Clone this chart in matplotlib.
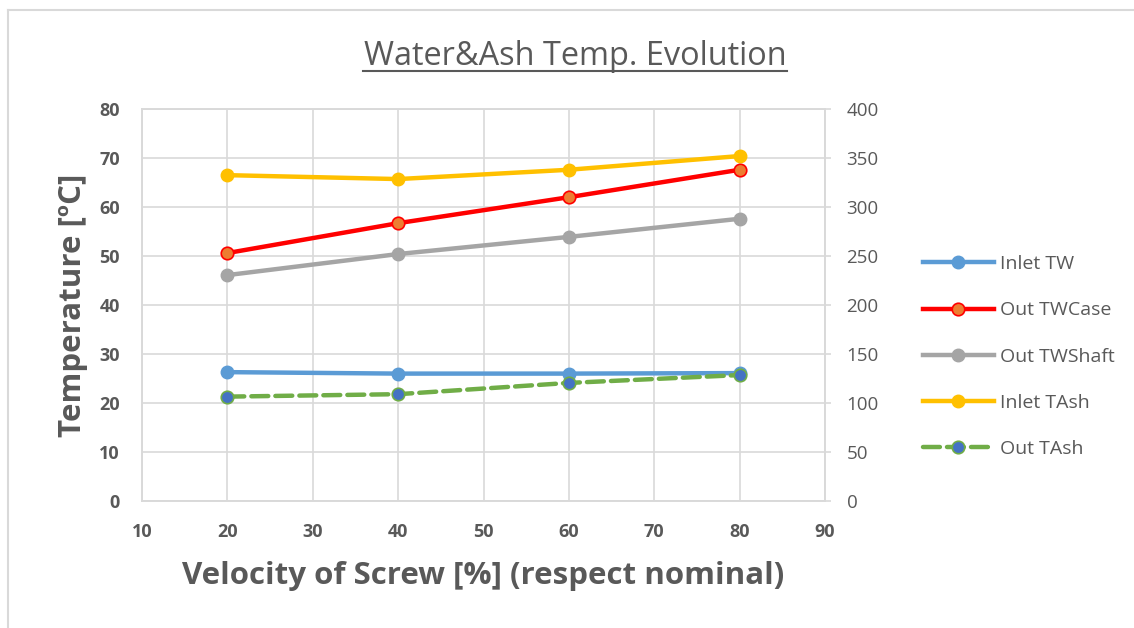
import matplotlib.pyplot as plt
from matplotlib.lines import Line2D

plt.rcParams['font.family'] = ['Open Sans', 'DejaVu Sans']

# data
velocity = [20, 40, 60, 80]
inlet_tw = [26.3, 26.0, 26.0, 26.1]
out_twcase = [50.6, 56.7, 62.0, 67.6]
out_twshaft = [46.1, 50.4, 53.9, 57.6]
# ash temps are on the right axis
inlet_tash = [332.5, 328.5, 338.0, 352.0]
out_tash = [106.5, 109.0, 120.5, 128.5]

grey_txt = '#595959'
grid_col = '#d9d9d9'

W, H = 1134, 628
fig = plt.figure(figsize=(11.34, 6.28), dpi=100)
ax = fig.add_axes([142 / W, 1 - 501 / H, 683 / W, 392 / H])
ax2 = ax.twinx()

# frame lines (only top and left are visible in the screenshot)
fig.add_artist(Line2D([7.5 / W, 1], [1 - 9.5 / H, 1 - 9.5 / H], transform=fig.transFigure,
                      color=grid_col, lw=1.5))
fig.add_artist(Line2D([7.5 / W, 7.5 / W], [0, 1 - 9.5 / H], transform=fig.transFigure,
                      color=grid_col, lw=1.5))

lw = 3.2
ms = 9
h1, = ax.plot(velocity, inlet_tw, color='#5B9BD5', lw=lw, marker='o', ms=ms, label='Inlet TW', zorder=3)
h2, = ax.plot(velocity, out_twcase, color='#FF0000', lw=lw, marker='o', ms=ms,
              markerfacecolor='#ED7D31', markeredgecolor='#FF0000', markeredgewidth=1.2,
              label='Out TWCase', zorder=3)
h3, = ax.plot(velocity, out_twshaft, color='#A5A5A5', lw=lw, marker='o', ms=ms, label='Out TWShaft', zorder=3)
h4, = ax2.plot(velocity, inlet_tash, color='#FFC000', lw=lw, marker='o', ms=ms, label='Inlet TAsh', zorder=3)
h5, = ax2.plot(velocity, out_tash, color='#70AD47', lw=lw, ls=(0, (3.8, 1.6)), marker='o', ms=ms,
               markerfacecolor='#4472C4', markeredgecolor='#70AD47', markeredgewidth=1.2,
               dash_capstyle='round', label='Out TAsh', zorder=3)

ax.set_xlim(10, 90)
ax.set_ylim(0, 80)
ax2.set_ylim(0, 400)
ax.set_xticks(range(10, 91, 10))
ax.set_yticks(range(0, 81, 10))
ax2.set_yticks(range(0, 401, 50))

ax.grid(True, color=grid_col, lw=1.2)
ax.set_axisbelow(True)
for a in (ax, ax2):
    for s in a.spines.values():
        s.set_color(grid_col)
        s.set_linewidth(1.2)
ax.tick_params(axis='x', length=0, labelsize=13, labelcolor=grey_txt, pad=16)
ax.tick_params(axis='y', length=0, labelsize=13, labelcolor=grey_txt, pad=16)
ax2.tick_params(axis='y', length=4.5, width=1.2, color=grid_col, labelsize=13.5,
                labelcolor=grey_txt, pad=11)
for lab in ax.get_xticklabels() + ax.get_yticklabels():
    lab.set_fontweight('bold')

ax.set_xlabel('Velocity of Screw [%] (respect nominal)', fontsize=22.5, fontweight='bold',
              color=grey_txt, labelpad=14)
ax.set_ylabel('Temperature [ºC]', fontsize=22.5, fontweight='bold', color=grey_txt, labelpad=8)

# title with underline
fig.text(575 / W, 1 - 65 / H, 'Water&Ash Temp. Evolution', ha='center', va='baseline',
         fontsize=23.4, color=grey_txt)
fig.add_artist(Line2D([363 / W, 787 / W], [1 - 71 / H, 1 - 71 / H], transform=fig.transFigure,
                      color=grey_txt, lw=1.5))

fig.legend(handles=[h1, h2, h3, h4, h5], loc='center left', bbox_to_anchor=(905 / W, 1 - 356.5 / H),
           frameon=False, fontsize=14, labelcolor=grey_txt, handlelength=3.7,
           labelspacing=1.45, handletextpad=0.3)

fig.savefig('out.png', dpi=100)
